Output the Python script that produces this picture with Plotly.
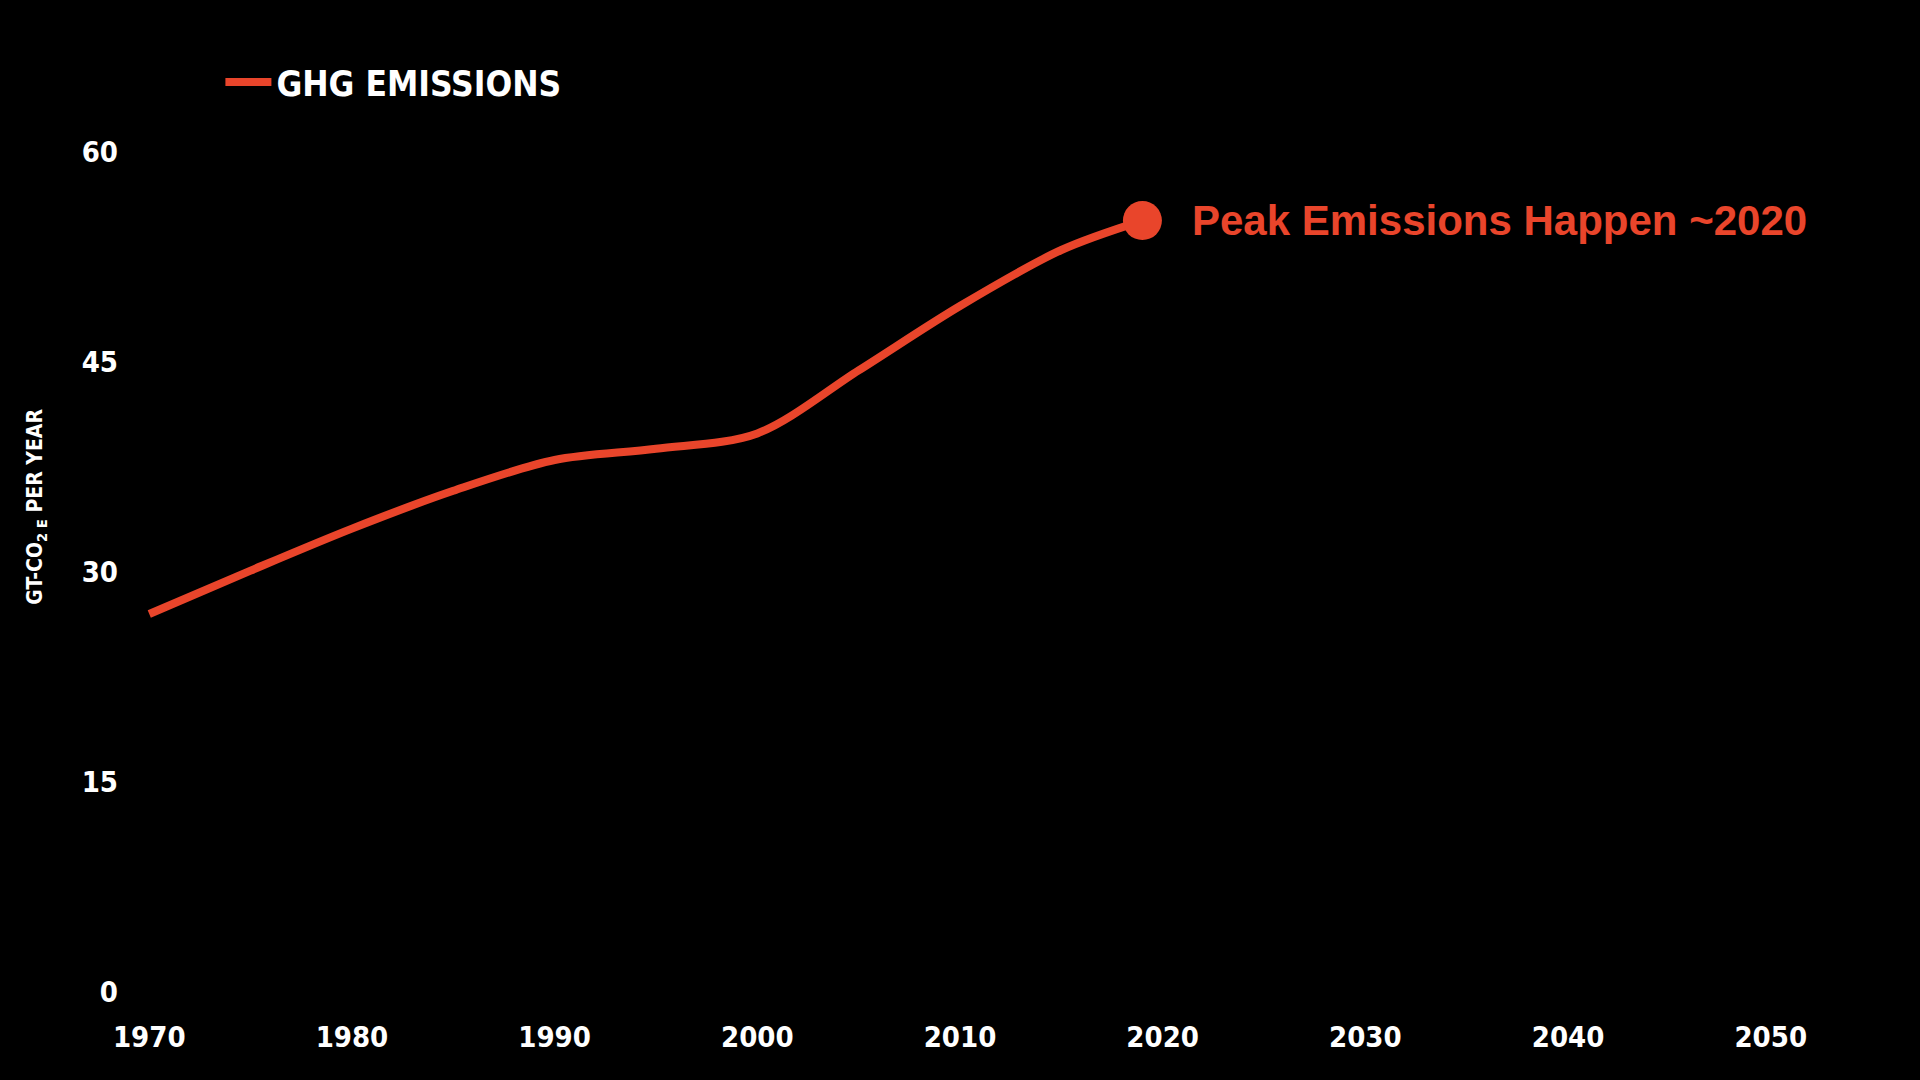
import plotly.graph_objects as go

years = [1970, 1975, 1980, 1985, 1990, 1995, 2000, 2005, 2010, 2015, 2019]
emissions = [27.0, 30.1, 33.1, 35.8, 38.0, 38.8, 39.9, 44.4, 49.0, 53.0, 55.1]
peak_year = [2019]
peak_value = [55.1]
x_ticks = [1970, 1980, 1990, 2000, 2010, 2020, 2030, 2040, 2050]
y_ticks = [0, 15, 30, 45, 60]

RED = "#E9452B"
COND = "DejaVu Sans Condensed, Liberation Sans Narrow, Arial Narrow, sans-serif"

fig = go.Figure()
fig.add_trace(go.Scatter(
    x=years, y=emissions, mode="lines", name="GHG EMISSIONS",
    line=dict(color=RED, width=8, shape="spline", smoothing=0.9),
))
fig.add_trace(go.Scatter(
    x=peak_year, y=peak_value, mode="markers", showlegend=False,
    marker=dict(color=RED, size=39), cliponaxis=False,
))
fig.add_annotation(
    x=peak_year[0], y=peak_value[0], text="Peak Emissions Happen ~2020",
    showarrow=False, xanchor="left", yanchor="middle", xshift=48,
    font=dict(family="Liberation Sans, Arial, sans-serif", size=42, color=RED, weight="bold"),
)
fig.add_annotation(
    xref="paper", yref="paper", x=-0.056, y=0.559,
    text="GT-CO<sub>2 E</sub> PER YEAR", textangle=-90, showarrow=False,
    xanchor="center", yanchor="middle",
    font=dict(family=COND, size=21, color="white", weight="bold"),
)

fig.update_layout(
    width=1920, height=1080,
    paper_bgcolor="black", plot_bgcolor="black",
    margin=dict(l=129, r=129, t=124, b=88),
    showlegend=True,
    legend=dict(
        x=0.055, y=1.048, xanchor="left", yanchor="middle",
        font=dict(family=COND, size=35, color="white", weight="bold"),
        bgcolor="rgba(0,0,0,0)", itemwidth=46,
    ),
)
fig.update_xaxes(
    range=[1969, 2051], tickvals=x_ticks, showgrid=False, zeroline=False,
    showline=False, ticks="", ticklabelstandoff=25, automargin=False,
    tickfont=dict(family=COND, size=29, color="white", weight="bold"),
)
fig.update_yaxes(
    range=[0, 62], tickvals=y_ticks, showgrid=False, zeroline=False,
    showline=False, ticks="", ticklabelstandoff=10, automargin=False,
    tickfont=dict(family=COND, size=29, color="white", weight="bold"),
)

fig.write_html(
    "out.html",
    config={"displayModeBar": False},
    post_script="document.body.style.margin='0';document.body.style.background='black';document.body.style.overflow='hidden';",
)
